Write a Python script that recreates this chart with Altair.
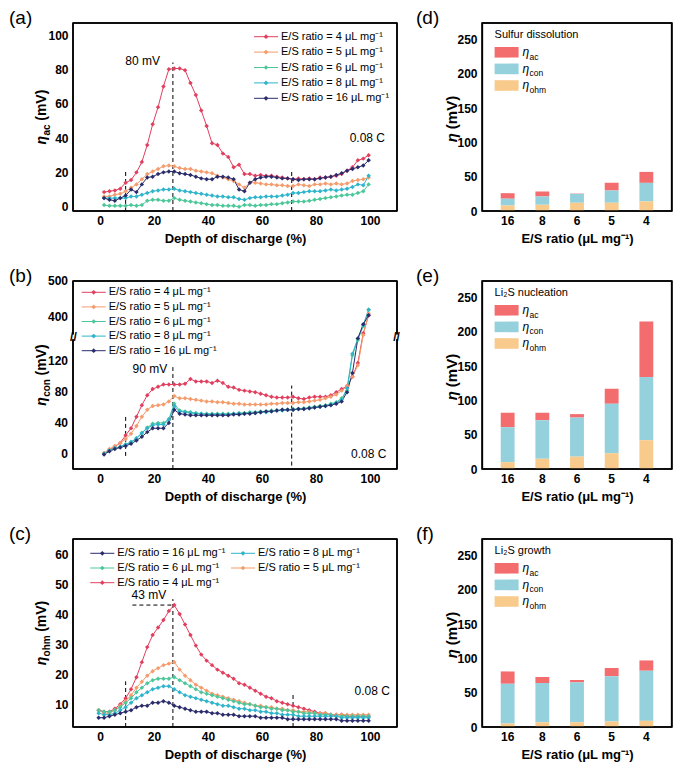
import altair as alt
import pandas as pd

FONT = "Liberation Sans"
W_L, W_R, H = 324, 190, 188

RATIOS = [4, 5, 6, 8, 16]
COLORS = ["#E13F5E", "#F59B6C", "#4CC79A", "#2EB4CB", "#2B2C6C"]
SERIES = [f"E/S ratio = {r} μL mg⁻¹" for r in RATIOS]

# depth of discharge grids (%)
X_AB = [1.5 + 2 * i for i in range(50)]
X_C = [-0.5 + 2 * i for i in range(51)]

ETA_AC = {
    4: [8.5, 9, 9.5, 10.5, 14, 15.5, 20, 26, 36, 48,
        58, 70, 80, 80.5, 80.5, 79.5, 72, 65, 56, 47,
        37, 36, 31, 29, 23, 24.5, 19, 19, 18, 18.5,
        18, 18, 17.5, 17, 16.5, 16, 16.5, 16, 16.5, 16,
        17, 17, 17.5, 18, 19, 21, 23, 27, 28, 30],
    5: [6, 6, 7, 7.5, 9, 11, 13, 16, 19, 20.5,
        22, 23.5, 24, 23.5, 22.5, 22, 22, 21, 20.5, 20,
        19.5, 18, 17, 16, 15, 13, 11, 14, 14, 13.5,
        13, 13, 12.5, 12.5, 12, 12, 13, 12.5, 12, 13,
        13, 13.5, 13, 13.5, 13, 13.5, 15, 15.5, 16, 17],
    6: [1, 0.5, 0.5, 0.5, 0.5, 1, 0.5, 1, 3.5, 4,
        4, 3.5, 3.5, 5, 4, 3.5, 3, 2.5, 2, 1.5,
        1, 1, 0.5, 0.5, 0.5, 0, 1, 1, 0.5, 1,
        1, 1.5, 1.5, 2, 2.5, 3, 3, 3, 3.5, 4,
        4.5, 5, 5.5, 6, 6.5, 7, 7, 8, 9, 13],
    8: [5, 5, 5, 5, 5, 6, 6, 7, 8, 9,
        9.5, 10, 10, 10.5, 9.5, 9, 8.5, 8, 7.5, 7,
        6.5, 6, 6, 5.5, 5.5, 4.5, 4, 5, 5.5, 5.5,
        6, 6, 6, 6.5, 7, 8, 8, 8.5, 9, 9,
        9, 9.5, 10, 9.5, 10, 10.5, 11.5, 13, 12.5, 18],
    16: [5, 4, 3.5, 5, 6.5, 10, 8.5, 13, 17, 17.5,
         19, 20, 20.5, 20.5, 19.5, 19, 18.5, 17.5, 16.5, 16,
         16, 17.5, 17.5, 17, 16, 10, 9, 14, 16, 17,
         17.5, 17.5, 17, 16.5, 16.5, 16, 15.5, 16, 16, 16,
         16.5, 17, 17.5, 18.5, 19.5, 21, 22, 23, 24, 27],
}

ETA_CON = {
    4: [0, 5, 9, 14, 24, 33, 48, 63, 76, 84,
        87, 90, 90, 90, 90, 91, 97, 94, 94, 94,
        92, 95, 92, 87, 86, 83, 82, 81, 80, 78,
        76, 74, 73, 73, 73, 74, 72, 71, 73, 74,
        74, 74, 76, 80, 84, 88, 100, 118, 355, 405],
    5: [1, 6, 10, 14, 19, 26, 36, 48, 57, 62,
        63, 64, 68, 75, 72, 72, 71, 70, 69, 68,
        68, 67, 67, 66, 65, 65, 64, 64, 64, 64,
        64, 65, 65, 66, 66, 66, 67, 67, 68, 69,
        70, 72, 74, 77, 82, 88, 100, 115, 350, 410],
    6: [0, 4, 7, 9, 12, 15, 20, 27, 34, 39,
        40, 40, 45, 65, 56, 55, 54, 53, 52, 52,
        52, 52, 52, 52, 52, 53, 53, 54, 54, 55,
        55, 56, 56, 57, 57, 58, 58, 59, 60, 61,
        62, 63, 65, 67, 72, 82, 128, 148, 375, 420],
    8: [0, 4, 7, 9, 12, 15, 20, 27, 33, 37,
        38, 38, 44, 62, 55, 54, 53, 52, 52, 51,
        51, 51, 51, 51, 52, 52, 52, 53, 53, 54,
        54, 55, 56, 56, 57, 57, 58, 58, 59, 60,
        61, 62, 64, 66, 70, 85, 130, 150, 378, 420],
    16: [-1, 3, 6, 8, 10, 13, 17, 22, 28, 33,
         33, 33, 40, 57, 52, 51, 50, 50, 50, 50,
         50, 50, 50, 50, 51, 51, 52, 52, 53, 54,
         55, 55, 56, 57, 57, 57, 58, 58, 59, 60,
         61, 62, 63, 65, 68, 80, 105, 150, 380, 405],
}

ETA_OHM = {
    4: [8, 7.5, 7.5, 8.5, 10, 12, 15, 19, 24, 29,
        33, 35.5, 38, 41, 43, 40, 36.5, 33, 29.5, 26.5,
        24.5, 23, 21.5, 20.5, 19.5, 18.5, 17, 16.5, 15.5, 14.5,
        13.5, 12.5, 12, 11, 10.5, 10, 9.5, 9, 8.5, 8,
        7.5, 7, 7, 6.5, 6.5, 6.5, 6, 6, 6, 6, 6],
    5: [8, 7, 7, 8, 9.5, 11, 13, 15.5, 17.5, 19.5,
        21, 22, 23, 23.5, 24, 21.5, 19.5, 18, 16.5, 15.5,
        14.5, 13.5, 13, 12.5, 12, 11.5, 11, 10.5, 10, 9.5,
        9.5, 9, 9, 8.5, 8.5, 8, 8, 7.5, 7.5, 7.5,
        7, 7, 7, 6.5, 6.5, 6.5, 6.5, 6.5, 6.5, 6.5, 6.5],
    6: [8, 7.5, 7.5, 8, 9, 10.5, 12, 14, 15.5, 17,
        18, 18.5, 18.5, 18.5, 19, 18, 17, 16, 15, 14,
        13.5, 13, 12.5, 12, 11.5, 11, 10.5, 10, 10, 9.5,
        9, 9, 8.5, 8.5, 8, 8, 7.5, 7.5, 7, 7,
        7, 6.5, 6.5, 6.5, 6, 6, 6, 6, 6, 6, 6],
    8: [7, 6.5, 6.5, 7, 8, 9, 10.5, 12, 13, 14,
        15, 15.5, 16, 16, 15, 14, 13, 12.5, 12, 11.5,
        11, 10.5, 10, 9.5, 9.5, 9, 8.5, 8.5, 8, 8,
        7.5, 7.5, 7, 7, 6.5, 6.5, 6.5, 6, 6, 6,
        6, 6, 6, 6, 6, 5.5, 5.5, 5.5, 5.5, 5.5, 5.5],
    16: [5.5, 5.5, 6, 6.5, 7, 7.5, 8, 9, 9.5, 9.5,
         10.5, 10.5, 11, 10.5, 9.5, 9, 8.5, 8, 7.5, 7.5,
         7.5, 7, 7, 6.5, 6.5, 6.5, 6, 6, 6, 6,
         5.5, 5.5, 5.5, 5.5, 5.5, 5, 5, 5, 5, 5,
         5, 5, 5, 5, 5, 4.5, 4.5, 4.5, 4.5, 4.5, 4.5],
}

# stacked bars (mV), categories in display order
BAR_CATS = ["16", "8", "6", "5", "4"]
BAR_COMPS = ["ac", "con", "ohm"]
BAR_COLORS = ["#F36D6F", "#94D1DC", "#F8CA8B"]
SULFUR = {"ohm": [8, 9, 12, 12, 14], "con": [10, 12, 13, 18, 27], "ac": [8, 7.5, 0.5, 11, 16]}
NUCLEATION = {"ohm": [10, 15, 18, 23, 42], "con": [51, 56, 57, 72, 92], "ac": [21, 11, 5, 22, 81]}
GROWTH = {"ohm": [5, 7, 7, 8, 9], "con": [58, 57, 58, 66, 73], "ac": [18, 9, 3.5, 12, 15]}
BAR_YMAX = 274

# annotations
ANN_A = {"t": ["80 mV", "0.08 C"], "x": [15.8, 99], "y": [84.9, 40]}
ANN_B = {"t": ["90 mV", "0.08 C"], "x": [18.5, 99.5], "y": [110, 0]}
ANN_C = {"t": ["43 mV", "0.08 C"], "x": [18.1, 100.8], "y": [46.5, 14.4]}
DASH_A = {"x": [9.5, 27, 71], "y1": [-2.5, -2.5, -2.5], "y2": [21, 84, 22]}
DASH_B = {"x": [9.5, 27, 71], "y1": [-3, -20, -15.6], "y2": [51.7, 112.6, 88.6]}
DASH_C = {"x": [9.5, 27, 71.5], "y1": [2.4, 2.4, 2.4], "y2": [17.6, 45, 13.6]}
TICKS_B = [0, 40, 80, 120, 400, 500]
X_LO, X_HI = -10, 110

ONE = pd.DataFrame({"k": [0]})


def txt(text, x, y, size=11, weight="normal", style="normal", align="left",
        baseline="middle", angle=0, dx=0, dy=0, color="black"):
    kw = dict(text=text, font=FONT, fontSize=size, fontWeight=weight, fontStyle=style,
              align=align, baseline=baseline, dx=dx, dy=dy, color=color)
    if angle:
        kw["angle"] = angle
    return alt.Chart(ONE).mark_text(**kw).encode(x=alt.value(x), y=alt.value(y))


def ytitle(sub, cy, xb, size=14, subsize=10):
    w_eta = 0.6 * size
    w_sub = {"ac": 1.14, "con": 1.8, "ohm": 2.12, "": 0.0}[sub] * subsize
    w_rest = 2.23 * size
    gap = 0.28 * size
    L = w_eta + w_sub + gap + w_rest
    y0 = cy + L / 2
    layers = [txt("η", xb, y0, size, "bold", "italic", baseline="alphabetic", angle=270)]
    if sub:
        layers.append(txt(sub, xb, y0, subsize, "bold", baseline="alphabetic", angle=270,
                          dx=w_eta + 0.5, dy=3.5))
    layers.append(txt("(mV)", xb, y0, size, "bold", baseline="alphabetic", angle=270,
                      dx=w_eta + w_sub + gap))
    return layers


def line_legend(x0, y0, dy, idx, cols=1, colw=0):
    layers = []
    for k, i in enumerate(idx):
        x = x0 + (k % cols) * colw
        y = y0 + (k // cols) * dy
        layers.append(alt.Chart(ONE).mark_rule(color=COLORS[i], strokeWidth=1).encode(
            x=alt.value(x), x2=alt.value(x + 24), y=alt.value(y)))
        layers.append(alt.Chart(ONE).mark_point(filled=True, shape="diamond", size=22,
                                                color=COLORS[i], opacity=1).encode(
            x=alt.value(x + 12), y=alt.value(y)))
        layers.append(txt(SERIES[i], x + 27, y, 11))
    return layers


def long_df(xs, table):
    rows = []
    for r, lab in zip(RATIOS, SERIES):
        for x, v in zip(xs, table[r]):
            rows.append({"x": x, "v": v, "s": lab})
    return pd.DataFrame(rows)


XENC = alt.X("x:Q", scale=alt.Scale(domain=[X_LO, X_HI], nice=False, zero=False),
             axis=alt.Axis(values=[0, 20, 40, 60, 80, 100], title="Depth of discharge (%)"))
CSCALE = alt.Scale(domain=SERIES, range=COLORS)


def line_frame(lo, hi, yscale, yaxis):
    # border of the plot area, drawn through the scales at the domain corners
    fr = pd.DataFrame({"x": [X_LO, X_LO, X_LO, X_HI], "x2": [X_HI, X_HI, X_LO, X_HI],
                       "fy": [lo, hi, lo, lo], "fy2": [lo, hi, hi, hi]})
    return alt.Chart(fr).mark_rule(color="black", strokeWidth=1.5).encode(
        x=XENC, x2="x2:Q", y=alt.Y("fy:Q", scale=yscale, axis=yaxis), y2="fy2:Q")


def line_panel(table, xs, yfield, yscale, yaxis, ylim, legend_layers, ann, dash, letter, sub,
               calc=None, extra=None):
    df = long_df(xs, table)
    Y = alt.Y(f"{yfield}:Q", scale=yscale, axis=yaxis)
    base = alt.Chart(df)
    if calc:
        base = base.transform_calculate(**calc)
    lines = base.mark_line(strokeWidth=1).encode(
        x=XENC, y=Y, color=alt.Color("s:N", scale=CSCALE, legend=None))
    pts = base.mark_point(filled=True, shape="diamond", size=20, opacity=1).encode(
        x=XENC, y=Y, color=alt.Color("s:N", scale=CSCALE, legend=None))
    Yd = alt.Y("y1:Q", scale=yscale, axis=yaxis)
    rules = alt.Chart(pd.DataFrame(dash)).mark_rule(
        color="black", strokeWidth=1, strokeDash=[4, 3]).encode(x=XENC, y=Yd, y2="y2:Q")
    Ya = alt.Y("y:Q", scale=yscale, axis=yaxis)
    texts = alt.Chart(pd.DataFrame(ann)).mark_text(
        font=FONT, fontSize=12, color="black", align="center", baseline="middle").encode(
        x=XENC, y=Ya, text="t:N")
    layers = [rules, lines, pts, texts, line_frame(ylim[0], ylim[1], yscale, yaxis)]
    if extra:
        layers += extra
    layers += legend_layers
    layers.append(txt(letter, -64, -5, 19))
    layers += ytitle(sub, H / 2, -27)
    return alt.layer(*layers).properties(width=W_L, height=H)


# (a)
A_LIM = [-2.5, 107]
pa = line_panel(
    ETA_AC, X_AB, "v",
    alt.Scale(domain=A_LIM, nice=False, zero=False),
    alt.Axis(values=[0, 20, 40, 60, 80, 100], title=None), A_LIM,
    line_legend(181, 13.7, 15.4, [0, 1, 2, 3, 4]),
    ANN_A, DASH_A, "(a)", "ac")

# (b) broken axis: lower part -20..152, upper part 345..500 compressed
BRK_LO, BRK_HI, K = 152, 345, 0.469
CALC_B = f"datum.v <= {BRK_LO} ? datum.v : {BRK_LO} + (datum.v - {BRK_HI}) * {K}"
B_LIM = [-20, BRK_LO + (500 - BRK_HI) * K]
b_scale = alt.Scale(domain=B_LIM, nice=False, zero=False)
b_axis = alt.Axis(labels=False, title=None)

brk = []
for xv in (0.4, W_L - 0.4):
    brk.append(alt.Chart(ONE).mark_rect(color="white").encode(
        x=alt.value(xv - 4), x2=alt.value(xv + 4), y=alt.datum(BRK_LO - 3), y2=alt.datum(BRK_LO + 3)))
    brk.append(alt.Chart(ONE).mark_text(text="//", font=FONT, fontSize=12, fontWeight="bold",
                                        color="black", align="center", baseline="middle").encode(
        x=alt.value(xv), y=alt.datum(BRK_LO)))
# tick labels of the broken axis, placed through the same transformed scale
brk.append(alt.Chart(pd.DataFrame({"v": TICKS_B})).transform_calculate(yy=CALC_B).mark_text(
    font=FONT, fontSize=12, fontWeight="bold", color="black", align="right", baseline="middle",
    dx=-5).encode(x=alt.value(0.01), y=alt.Y("yy:Q", scale=b_scale, axis=b_axis), text="v:Q"))

pb = line_panel(
    ETA_CON, X_AB, "yy", b_scale, b_axis, B_LIM,
    line_legend(8.7, 11.3, 14.6, [0, 1, 2, 3, 4]),
    ANN_B, DASH_B, "(b)", "con", calc={"yy": CALC_B}, extra=brk)

C_LIM = [2.4, 65]
c_scale = alt.Scale(domain=C_LIM, nice=False, zero=False)
c_axis = alt.Axis(values=[10, 20, 30, 40, 50, 60], title=None)
dash_43 = alt.Chart(pd.DataFrame({"x": [12], "x2": [27], "y": [43]})).mark_rule(
    color="black", strokeWidth=1, strokeDash=[4, 3]).encode(
    x=XENC, x2="x2:Q", y=alt.Y("y:Q", scale=c_scale, axis=c_axis))

pc = line_panel(
    ETA_OHM, X_C, "v", c_scale, c_axis, C_LIM,
    line_legend(17.3, 14.3, 14.7, [4, 3, 2, 1, 0], cols=2, colw=140.7),
    ANN_C, DASH_C, "(c)", "ohm", extra=[dash_43])


def bar_panel(table, title, letter):
    rows = []
    for comp in BAR_COMPS:
        for cat, v in zip(BAR_CATS, table[comp]):
            rows.append({"r": cat, "comp": comp, "v": v})
    df = pd.DataFrame(rows)
    yscale = alt.Scale(domain=[0, BAR_YMAX], nice=False)
    yaxis = alt.Axis(values=[0, 50, 100, 150, 200, 250], title=None)
    bars = alt.Chart(df).transform_calculate(
        o="indexof(['ohm','con','ac'], datum.comp)").mark_bar().encode(
        x=alt.X("r:N", sort=BAR_CATS, scale=alt.Scale(paddingInner=0.6, paddingOuter=0.54),
                axis=alt.Axis(title="E/S ratio (μL mg⁻¹)", labelAngle=0)),
        y=alt.Y("v:Q", stack="zero", scale=yscale, axis=yaxis),
        color=alt.Color("comp:N", scale=alt.Scale(domain=BAR_COMPS, range=BAR_COLORS), legend=None),
        order=alt.Order("o:Q", sort="ascending"))
    # plot-area border: full-width rules at the y-domain ends, side rules between them
    hframe = alt.Chart(pd.DataFrame({"fy": [0, BAR_YMAX]})).mark_rule(
        color="black", strokeWidth=1.5).encode(y=alt.Y("fy:Q", scale=yscale, axis=yaxis))
    sides = [alt.Chart(pd.DataFrame({"fy": [0], "fy2": [BAR_YMAX]})).mark_rule(
        color="black", strokeWidth=1.5).encode(
        x=alt.value(xv), y=alt.Y("fy:Q", scale=yscale, axis=yaxis), y2="fy2:Q")
        for xv in (0.4, W_R - 0.4)]
    layers = [bars, hframe] + sides + [txt(title, 12.6, 11.6, 11)]
    for i, (comp, col) in enumerate(zip(BAR_COMPS, BAR_COLORS)):
        top = 24 + i * 16.6
        layers.append(alt.Chart(ONE).mark_rect(color=col).encode(
            x=alt.value(12.6), x2=alt.value(36.6), y=alt.value(top), y2=alt.value(top + 10.6)))
        layers.append(txt("η", 40.5, top + 9, 12, style="italic", baseline="alphabetic"))
        layers.append(txt(comp, 47.5, top + 12.5, 8.5, baseline="alphabetic"))
    layers.append(txt(letter, -66, -5, 19))
    layers += ytitle("", H / 2 + 2, -25, size=15)
    return alt.layer(*layers).properties(width=W_R, height=H)


pd_ = bar_panel(SULFUR, "Sulfur dissolution", "(d)")
pe = bar_panel(NUCLEATION, "Li₂S nucleation", "(e)")
pf = bar_panel(GROWTH, "Li₂S growth", "(f)")

left = alt.vconcat(pa, pb, pc, spacing=70, bounds="flush").resolve_scale(color="independent")
right = alt.vconcat(pd_, pe, pf, spacing=70, bounds="flush").resolve_scale(color="independent")

# with flush bounds the nested column counts as zero width, so the spacing spans the left plot
chart = alt.hconcat(left, right, spacing=W_L + 85, bounds="flush").resolve_scale(
    color="independent"
).properties(
    padding=0, background="white"
).configure_view(stroke="black", strokeWidth=1.5).configure_axis(
    labelFont=FONT, labelFontSize=12, labelFontWeight="bold", labelColor="black",
    titleFont=FONT, titleFontSize=13, titleFontWeight="bold", titleColor="black",
    grid=False, domain=False, ticks=False, titlePadding=6, labelOverlap=False
).configure_axisX(labelPadding=4).configure_axisY(labelPadding=5)

chart.save("out.html", embed_options={"renderer": "svg", "actions": False})
